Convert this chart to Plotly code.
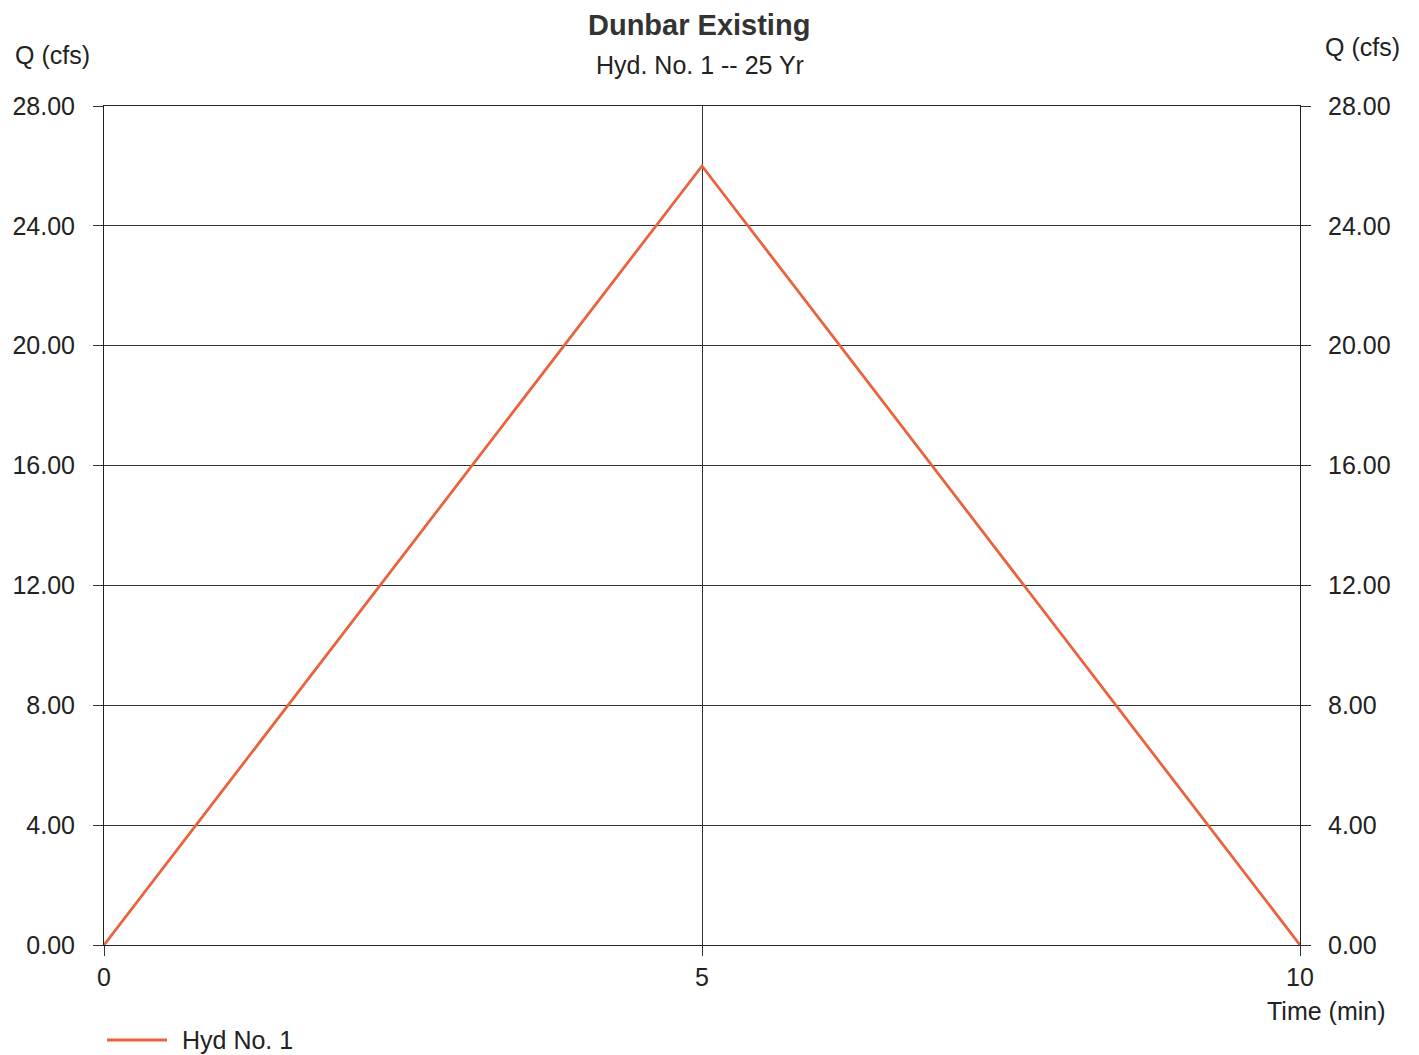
import plotly.graph_objects as go

time_min = [0, 5, 10]
flow_cfs = [0.0, 26.0, 0.0]
y_ticks = [0, 4, 8, 12, 16, 20, 24, 28]
y_tick_text = ["0.00", "4.00", "8.00", "12.00", "16.00", "20.00", "24.00", "28.00"]
x_ticks = [0, 5, 10]
series_name = "Hyd No. 1"

FONT = "Liberation Sans, Arial, sans-serif"
OFF = 8  # page body margin
W, H = 1419 - OFF, 1055 - OFF
# plot area in screenshot pixels
PL, PR, PT, PB = 104, 1300, 106, 945
L, T = PL - OFF, PT - OFF
R, B = W - (PR - OFF), H - (PB - OFF)
pw, ph = W - L - R, H - T - B
LINE_COLOR = "#E8643E"


def px2paper(px, py):
    px -= OFF
    py -= OFF
    return (px - L) / pw, (H - py - B) / ph


fig = go.Figure()
fig.add_trace(go.Scatter(x=time_min, y=flow_cfs, mode="lines", name=series_name,
                         line=dict(color=LINE_COLOR, width=2.8), showlegend=False))
fig.add_trace(go.Scatter(x=time_min, y=flow_cfs, mode="lines", yaxis="y2",
                         line=dict(width=0, color="rgba(0,0,0,0)"), showlegend=False,
                         hoverinfo="skip"))

tickfont = dict(family=FONT, size=25, color="#222")
axis_common = dict(showline=True, linecolor="#222", linewidth=1, mirror=True,
                   showgrid=True, gridcolor="#333", gridwidth=1,
                   ticks="outside", ticklen=10, tickcolor="#333",
                   tickfont=tickfont, zeroline=False, automargin=False)

annots = []


def add_text(text, px, py, xanchor, size, bold=False):
    x, y = px2paper(px, py)
    annots.append(dict(text=f"<b>{text}</b>" if bold else text, x=x, y=y, xref="paper", yref="paper",
                       showarrow=False, xanchor=xanchor, yanchor="middle",
                       font=dict(size=size, family=FONT, color="#333" if bold else "#222")))


add_text("Dunbar Existing", 699, 25, "center", 29, bold=True)
add_text("Hyd. No. 1 -- 25 Yr", 700, 65, "center", 25)
add_text("Q (cfs)", 13, 55, "left", 25)
add_text("Q (cfs)", 1402, 47, "right", 25)
add_text("Time (min)", 1388, 1011, "right", 25)
add_text(series_name, 180, 1040, "left", 25)

lx0, ly = px2paper(107, 1040)
lx1, _ = px2paper(167, 1040)

fig.update_layout(
    width=W, height=H,
    margin=dict(l=L, r=R, t=T, b=B, autoexpand=False),
    paper_bgcolor="white", plot_bgcolor="white",
    font=dict(family=FONT, color="#222"),
    xaxis=dict(range=[0, 10], tickvals=x_ticks, ticktext=[str(v) for v in x_ticks], **axis_common),
    yaxis=dict(range=[0, 28], tickvals=y_ticks, ticktext=y_tick_text, ticklabelstandoff=13, **axis_common),
    yaxis2=dict(range=[0, 28], tickvals=y_ticks, ticktext=y_tick_text, overlaying="y", side="right",
                showgrid=False, showline=False, ticks="outside", ticklen=10, tickcolor="#333",
                ticklabelstandoff=12, automargin=False,
                tickfont=tickfont, zeroline=False),
    showlegend=False,
    annotations=annots,
    shapes=[dict(type="line", xref="paper", yref="paper", x0=lx0, x1=lx1, y0=ly, y1=ly,
                 line=dict(color=LINE_COLOR, width=3))],
)

fig.write_html("out.html")
